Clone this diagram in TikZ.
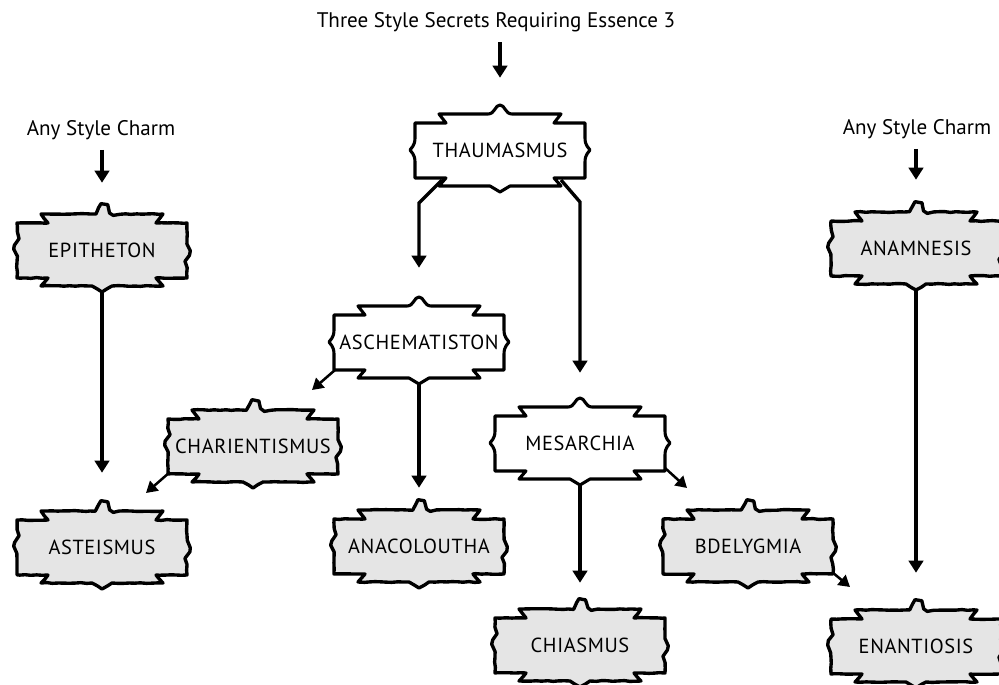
\documentclass[tikz,border=0pt]{standalone}
\usepackage{fontspec}
\setmainfont{PT Sans}
\newfontfamily\boxfont[LetterSpace=3]{PT Sans}
\usetikzlibrary{arrows.meta}
\usetikzlibrary{calc}
\usetikzlibrary{decorations.pathmorphing}
\tikzset{%
  plainframe/.style={draw,line width=2.2pt,fill=white,line join=round},
  roughframe/.style={draw,line width=2.4pt,fill=black!10,line join=round,
    decorate,decoration={random steps,segment length=4pt,amplitude=0.3pt}},
  boxlabel/.style={rectangle,inner sep=0pt,minimum width=42.5mm,minimum height=18mm,
    font=\boxfont\fontsize{14.5}{16}\selectfont},
  charm/.style={inner sep=0pt,font=\fontsize{15}{17}\selectfont},
  conn/.style={line width=2.4pt,-{Triangle[length=3mm,width=3.6mm]}},
  thinconn/.style={line width=1.8pt,-{Triangle[length=2.8mm,width=3.2mm]}}
}
% frame round a name label: [style]{name}{position}{text}
\newcommand*\framenode[4][plainframe]{%
  \draw[#1,transform canvas={shift={#3}}] (-61,-36) -- (-12,-36) .. controls (-5,-36) and (-5,-45) .. (0,-45)
    .. controls (5,-45) and (5,-36) .. (12,-36) -- (61,-36) -- (54,-27) -- (85,-27) -- (85,-12)
    .. controls (85,-4) and (89,-2) .. (90,0) .. controls (89,2) and (85,4) .. (85,12)
    -- (85,28) -- (54,28) -- (61,36) -- (10,36) -- (0,42) -- (-10,36) -- (-61,36)
    -- (-54,28) -- (-85,28) -- (-85,12) .. controls (-85,4) and (-89,2) .. (-90,0)
    .. controls (-89,-2) and (-85,-4) .. (-85,-12) -- (-85,-27) -- (-54,-27) -- cycle;
  \node[boxlabel] (#2) at #3 {#4};
}

\begin{document}
\begin{tikzpicture}[x=0.25mm,y=-0.25mm]
  \pgfmathsetseed{11}
  \useasboundingbox (0,0) rectangle (999,685);

  \node[charm] (title) at (496,22) {Three Style Secrets Requiring Essence 3};
  \node[charm] (charmleft) at (101,130) {Any Style Charm};
  \node[charm] (charmright) at (917,129) {Any Style Charm};

  \framenode{thaum}{(500,150)}{THAUMASMUS}
  \framenode[roughframe]{epith}{(102,250)}{EPITHETON}
  \framenode[roughframe]{anam}{(916,248)}{ANAMNESIS}
  \framenode{asch}{(419,342)}{ASCHEMATISTON}
  \framenode[roughframe]{charient}{(253,446)}{CHARIENTISMUS}
  \framenode{mes}{(580,443)}{MESARCHIA}
  \framenode[roughframe]{asteis}{(102,547)}{ASTEISMUS}
  \framenode[roughframe]{anacol}{(419,546)}{ANACOLOUTHA}
  \framenode[roughframe]{bdel}{(748,546)}{BDELYGMIA}
  \framenode[roughframe]{chias}{(580,645)}{CHIASMUS}
  \framenode[roughframe]{enant}{(916,646)}{ENANTIOSIS}

  \draw[conn,shorten <=2.5mm,shorten >=9mm] (title.south -| thaum.north) -- (thaum.north);
  \draw[conn,shorten <=2.5mm,shorten >=7.75mm] (charmleft.south -| epith.north) -- (epith.north);
  \draw[conn,shorten <=2.5mm,shorten >=8mm] (charmright.south -| anam.north) -- (anam.north);

  \draw[conn,shorten >=9.5mm] ([shift={(-58,30)}]thaum.center) -- ++(-23,23) -- (asch.north);
  \draw[conn,shorten >=8.5mm] ([shift={(61,30)}]thaum.center) -- ++(19,22) -- (mes.north);
  \draw[conn,shorten <=1.5mm,shorten >=9.5mm] (epith.south) -- (asteis.north);
  \draw[conn,shorten <=1.5mm,shorten >=5.5mm] (asch.south) -- (anacol.north);
  \draw[conn,shorten <=1.5mm,shorten >=6.5mm] (mes.south) -- (chias.north);
  \draw[conn,shorten <=1.5mm,shorten >=9.25mm] (anam.south) -- (enant.north);

  \draw[thinconn] ([shift={(-84,28)}]asch.center) -- ([shift={(59,-56)}]charient.center);
  \draw[thinconn] ([shift={(-83,26)}]charient.center) -- ([shift={(44,-54)}]asteis.center);
  \draw[thinconn] ([shift={(85,25)}]mes.center) -- ([shift={(-61,-58)}]bdel.center);
  \draw[thinconn] ([shift={(84,26)}]bdel.center) -- ([shift={(-66,-59)}]enant.center);
\end{tikzpicture}
\end{document}
